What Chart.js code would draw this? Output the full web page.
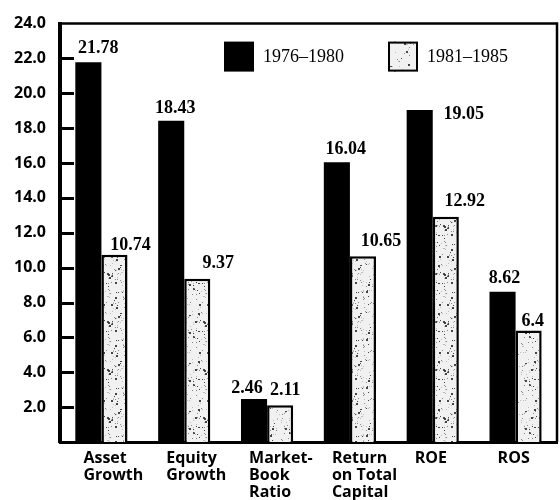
<!DOCTYPE html>
<html>
<head>
<meta charset="utf-8">
<script src="https://cdn.jsdelivr.net/npm/chart.js@4/dist/chart.umd.min.js"></script>
<style>
  html, body { margin: 0; padding: 0; background: #fff; }
  #wrap { width: 560px; height: 500px; }
</style>
</head>
<body>
<div id="wrap"><canvas id="chart" width="560" height="500"></canvas></div>
<script>
// Categories (multi-line labels) and the two period series
const categories = [
  ['Asset', 'Growth'],
  ['Equity', 'Growth'],
  ['Market-', 'Book', 'Ratio'],
  ['Return', 'on Total', 'Capital'],
  ['ROE'],
  ['ROS']
];
const seriesNames = ['1976\u20131980', '1981\u20131985'];
const values7680 = [21.78, 18.43, 2.46, 16.04, 19.05, 8.62];
const values8185 = [10.74, 9.37, 2.11, 10.65, 12.92, 6.4];
const yTicks = [2, 4, 6, 8, 10, 12, 14, 16, 18, 20, 22, 24];

// Speckled light fill for the later period
function makeStipple(size, count, seed) {
  const c = document.createElement('canvas');
  c.width = c.height = size;
  const g = c.getContext('2d');
  g.fillStyle = '#f1f1f1';
  g.fillRect(0, 0, size, size);
  let s = seed;
  const rnd = () => (s = (s * 16807) % 2147483647) / 2147483647;
  for (let i = 0; i < count; i++) {
    const x = Math.floor(rnd() * size);
    const y = Math.floor(rnd() * size);
    const r = rnd();
    g.fillStyle = r < 0.25 ? '#444' : (r < 0.6 ? '#888' : '#bbb');
    g.fillRect(x, y, r < 0.12 ? 2 : 1, r < 0.08 ? 2 : 1);
  }
  return g.createPattern(c, 'repeat');
}
const stipple = makeStipple(48, 150, 12345);
const stippleLight = makeStipple(30, 30, 777);

// Per-bar label nudges, relative to the bar's top centre
const labelNudge = [
  [[10, -14], [4, -12], [-7, -11], [9, -13], [44, 4], [2, -13]],
  [[16, -9], [21, -15], [5, -15], [18, -15], [19, -15], [4, -9]]
];

const valueLabels = {
  id: 'valueLabels',
  afterDatasetsDraw(chart) {
    const ctx = chart.ctx;
    ctx.save();
    ctx.font = 'bold 18px "Liberation Serif", serif';
    ctx.fillStyle = '#000';
    ctx.textAlign = 'center';
    ctx.textBaseline = 'middle';
    chart.data.datasets.forEach((ds, di) => {
      chart.getDatasetMeta(di).data.forEach((bar, i) => {
        const [dx, dy] = labelNudge[di][i];
        ctx.fillText(String(ds.data[i]), bar.x + dx, bar.y + dy);
      });
    });
    ctx.restore();
  }
};

// Frame (top/right), inward tick marks on the value axis
const frame = {
  id: 'frame',
  afterDatasetsDraw(chart) {
    const { ctx, chartArea: a, scales } = chart;
    const y = scales.y;
    ctx.save();
    ctx.strokeStyle = '#000';
    ctx.lineWidth = 2.5;
    ctx.beginPath();
    ctx.moveTo(a.left - 2, a.top);
    ctx.lineTo(a.right, a.top);
    ctx.lineTo(a.right, a.bottom);
    ctx.stroke();
    ctx.lineWidth = 3;
    ctx.beginPath();
    yTicks.forEach(v => {
      if (v >= 24) return;
      const py = Math.round(y.getPixelForValue(v)) + 0.5;
      ctx.moveTo(a.left, py);
      ctx.lineTo(a.left + 14, py);
    });
    ctx.stroke();
    ctx.restore();
  }
};

// Legend drawn inside the plot from the dataset styles
const innerLegend = {
  id: 'innerLegend',
  afterDraw(chart) {
    const { ctx, chartArea: a } = chart;
    const spots = [a.left + 164, a.left + 328];
    ctx.save();
    ctx.font = '18px "Liberation Serif", serif';
    ctx.textBaseline = 'middle';
    ctx.textAlign = 'left';
    chart.data.datasets.forEach((ds, i) => {
      const x = spots[i], y = a.top + 18, s = 30;
      ctx.fillStyle = i === 0 ? ds.backgroundColor : stippleLight;
      ctx.fillRect(x, y, s, s);
      if (ds.borderWidth) {
        ctx.strokeStyle = ds.borderColor;
        ctx.lineWidth = 2;
        ctx.strokeRect(x + 1, y + 1, s - 2, s - 2);
      }
      ctx.fillStyle = '#000';
      ctx.fillText(ds.label, x + s + 9, y + s / 2 + 1);
    });
    ctx.restore();
  }
};

new Chart(document.getElementById('chart'), {
  type: 'bar',
  data: {
    labels: categories,
    datasets: [
      {
        label: seriesNames[0],
        data: values7680,
        backgroundColor: '#000',
        borderWidth: 0,
        categoryPercentage: 0.63,
        barPercentage: 1.0
      },
      {
        label: seriesNames[1],
        data: values8185,
        backgroundColor: stipple,
        borderColor: '#000',
        borderWidth: 2.5,
        categoryPercentage: 0.63,
        barPercentage: 1.0
      }
    ]
  },
  options: {
    responsive: false,
    animation: false,
    devicePixelRatio: 1,
    layout: { padding: { left: 0, top: 22, right: 3, bottom: 0 } },
    plugins: {
      legend: { display: false },
      tooltip: { enabled: false }
    },
    scales: {
      x: {
        grid: { display: false, drawTicks: false },
        border: { display: true, color: '#000', width: 3 },
        ticks: {
          color: '#000',
          font: { family: '"Open Sans", sans-serif', size: 16, weight: 'bold', lineHeight: 1.06 },
          padding: 8,
          align: 'start',
          labelOffset: -18,
          maxRotation: 0,
          autoSkip: false
        },
        afterFit(scale) { scale.height = 58; }
      },
      y: {
        min: 0,
        max: 24,
        grid: { display: false, drawTicks: false },
        border: { display: true, color: '#000', width: 4 },
        afterBuildTicks(scale) {
          scale.ticks = [0].concat(yTicks).map(v => ({ value: v }));
        },
        ticks: {
          color: '#000',
          font: { family: '"Open Sans", sans-serif', size: 16, weight: 'bold' },
          padding: 14,
          callback: v => (v === 0 ? '' : v.toFixed(1))
        },
        afterFit(scale) { scale.width = 60; }
      }
    }
  },
  plugins: [frame, valueLabels, innerLegend]
});
</script>
</body>
</html>
